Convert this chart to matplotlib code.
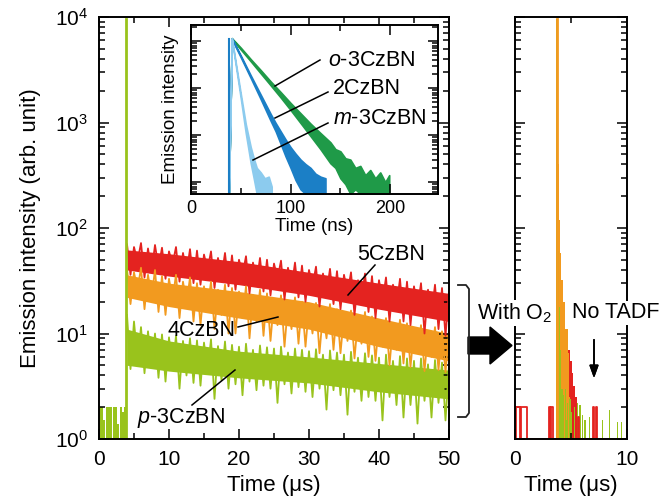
import matplotlib
matplotlib.use('Agg')
import matplotlib.pyplot as plt
import numpy as np
from matplotlib.lines import Line2D
from matplotlib.patches import Polygon
from matplotlib.ticker import MultipleLocator, LogLocator, NullFormatter

plt.rcParams['font.family'] = ['Liberation Sans', 'DejaVu Sans']
plt.rcParams['mathtext.fontset'] = 'custom'
plt.rcParams['mathtext.rm'] = 'Liberation Sans'
plt.rcParams['mathtext.it'] = 'Liberation Sans:italic'

RED = '#e42320'
ORANGE = '#f29a1f'
LIME = '#99c31c'
DGREEN = '#1f9a48'
BLUE = '#1b7fc6'
LBLUE = '#8ccbee'

# ---- main panel: delayed emission, sampled every 0.5 us from 4 to 50 us ----
t_main = np.linspace(4.0, 50.0, 93)
red_sig = [70, 36, 66, 48, 72, 34, 64, 38, 69, 42,
           65, 33, 60, 45, 66, 31, 58, 37, 63, 30,
           61, 29, 56, 40, 60, 27, 52, 34, 58, 28,
           55, 26, 50, 36, 54, 24, 47, 30, 52, 25,
           50, 23, 46, 33, 49, 21, 42, 27, 47, 22,
           44, 20, 40, 28, 43, 18, 37, 24, 41, 19,
           39, 17, 36, 24, 38, 15, 32, 21, 37, 16,
           35, 14, 32, 20, 34, 13, 29, 18, 33, 13,
           31, 12, 28, 17, 30, 10, 26, 15, 29, 11,
           27, 9.5, 25]
orange_sig = [41, 19, 38, 26, 42, 17, 36, 22, 40, 16,
              35, 15, 33, 21, 36, 14, 31, 19, 34, 13,
              30, 12, 28, 17, 31, 11, 26, 15, 29, 10,
              27, 10, 25, 14, 28, 9, 23, 13, 26, 9.5,
              24, 8.5, 21, 12, 23, 7.5, 19, 11, 22, 8,
              20, 7.5, 18, 10, 19.5, 6.5, 16, 9, 19, 7,
              17, 6.5, 15, 8.5, 16.5, 5.8, 13.5, 8, 16, 6,
              14.5, 5.5, 13, 7.5, 14, 5, 12, 7, 13.5, 5.2,
              12.5, 4.8, 11, 6.5, 12, 4.4, 10, 6, 11.5, 4.5,
              10.5, 4.3, 10]
green_sig = [15, 4.6, 13, 5.5, 11.5, 4.2, 10.5, 4.8, 10, 3.8,
             9.8, 3.5, 9.2, 4.6, 9.5, 3.0, 8.5, 4, 9, 3.4,
             8.6, 3.2, 8.2, 4.3, 8.8, 2.4, 7.6, 3.6, 8.4, 3.0,
             7.8, 3.3, 7.5, 2.6, 8, 3.5, 7, 2.9, 7.7, 3.2,
             7.4, 3.0, 7.2, 2.2, 7.5, 3.3, 6.6, 2.7, 7.2, 3.1,
             7, 2.8, 6.8, 2.5, 7.1, 3.0, 6.3, 1.9, 6.9, 2.9,
             6.6, 2.6, 6.3, 1.7, 6.7, 2.8, 5.9, 2.3, 6.5, 2.5,
             6.2, 2.3, 5.9, 1.5, 6.3, 2.5, 5.5, 2.1, 6.1, 1.6,
             5.8, 2.1, 5.5, 1.4, 5.8, 2.3, 5.1, 1.6, 5.6, 2.2,
             5.3, 1.5, 5.0]
# dense middle of each noisy band
t_core = [4, 10, 20, 30, 40, 50]
red_core_hi = [62, 57, 48, 38, 30, 24]
red_core_lo = [40, 35, 29, 23, 17, 13]
orange_core_hi = [36, 30, 25, 20, 14, 10]
orange_core_lo = [22, 18, 14, 11, 7.5, 5.5]
green_core_hi = [11, 8.5, 6.8, 6.0, 5.2, 4.5]
green_core_lo = [5, 4.4, 3.8, 3.4, 2.8, 2.4]
pre_t = [0.0, 0.3, 0.5, 0.8, 1.0, 1.3, 1.5, 1.8, 2.0, 2.3, 2.5, 2.8, 3.0, 3.3, 3.5, 3.9]
pre_hi = [2, 2, 1.5, 1, 2, 2, 2, 1, 2, 2, 1.4, 1, 2, 1.8, 2, 2]
spike_t = 3.9
spike_peak = 9500

# ---- inset: prompt fluorescence (ns) ----
o3_t = [38, 41, 50, 60, 70, 80, 90, 100, 110, 120, 130, 140, 145, 150, 155, 160, 165, 170,
        175, 180, 185, 190, 195, 199]
o3_hi = [0.56, 1150, 720, 410, 240, 138, 82, 48, 29, 17.5, 11, 7, 5, 4.5, 3.2, 3, 2.0, 2.2,
         1.4, 1.8, 1.2, 1.6, 1.0, 1.4]
o3_lo = [0.56, 1100, 660, 370, 205, 114, 63, 34, 18, 9.5, 5, 2.5, 2.0, 1.2, 0.9, 0.56, 0.7, 0.56,
         0.56, 0.56, 0.56, 0.56, 0.56, 0.56]
cz2_t = [38, 41, 50, 60, 70, 80, 85, 90, 95, 100, 105, 110, 115, 120, 125, 130, 135]
cz2_hi = [0.56, 1150, 490, 185, 72, 28, 18, 12, 8, 5.5, 4, 3, 2.4, 2, 1.5, 1.3, 1.2]
cz2_lo = [0.56, 1100, 450, 163, 58, 20, 12, 6.5, 3.5, 2, 1.1, 0.7, 0.56, 0.56, 0.56, 0.56, 0.56]
m3_t = [38, 41, 45, 50, 55, 60, 63, 66, 70, 74, 78, 81]
m3_hi = [0.56, 1150, 340, 75, 17, 5.5, 3.2, 2.0, 1.6, 1.2, 1.3, 0.8]
m3_lo = [0.56, 1100, 300, 60, 11, 2.5, 1.2, 0.56, 0.56, 0.56, 0.56, 0.56]

# ---- right panel: with O2 (us) ----
o2_red_t = [3.70, 3.75, 3.80, 3.90, 4.00, 4.10, 4.20, 4.30, 4.45, 4.60, 4.75, 4.90, 5.05,
            5.20, 5.35, 5.50, 5.60]
o2_red_y = [1, 9000, 110, 40, 24, 20, 17, 14, 11, 9, 7, 5.5, 4.2, 3.2, 2.5, 1.8, 1]
o2_orange_t = [3.68, 3.72, 3.80, 3.90, 4.00, 4.15, 4.30, 4.50, 4.70, 4.85, 4.95]
o2_orange_y = [1, 9500, 400, 120, 58, 32, 20, 11, 6.5, 2.5, 1]
o2_green_t = [3.66, 3.70, 3.76, 3.85, 3.95, 4.05, 4.15, 4.25]
o2_green_y = [1, 9500, 300, 60, 18, 7, 3, 1]
o2_red_base_t = [0.0, 0.1, 0.45, 0.55, 1.05, 3.05, 3.15, 3.25, 3.35, 5.60, 5.70, 5.80,
                 6.95, 7.05, 7.20, 7.30, 10]
o2_red_base_y = [1, 2, 1, 2, 1, 2, 1, 2, 1, 1.6, 1, 1, 2, 1, 2, 1, 1]
o2_green_base_t = [4.25, 4.35, 4.45, 4.55, 4.65, 4.75, 4.85, 5.0, 5.1, 5.25, 5.35, 5.55, 5.65,
                   5.75, 5.85, 6.0, 6.1, 6.2, 6.3, 6.6, 6.7, 7.8, 7.9, 8.0, 8.4, 8.5, 8.6,
                   9.1, 9.2, 9.3, 9.45, 9.55, 9.65]
o2_green_base_y = [2.6, 1, 3, 1.5, 2.2, 1, 2.4, 1.8, 1, 2, 1, 2.2, 1, 2.1, 1, 1.7, 1, 1.5,
                   1, 1.6, 1, 1.5, 1, 1, 1.9, 1, 1, 1.45, 1, 1, 1.45, 1, 1]

W, H = 664, 504


def fx(x):
    return x / W


def fy(y):
    return 1 - y / H


def style(a, size):
    a.tick_params(which='both', direction='in', top=True, right=True, width=1.1,
                  labelsize=size)
    a.tick_params(which='major', length=7)
    a.tick_params(which='minor', length=4)
    for s in a.spines.values():
        s.set_linewidth(1.4)
    a.set_yscale('log')
    a.yaxis.set_major_locator(LogLocator(base=10, numticks=10))
    a.yaxis.set_minor_locator(LogLocator(base=10, subs=np.arange(2, 10), numticks=10))
    a.yaxis.set_minor_formatter(NullFormatter())


fig = plt.figure(figsize=(6.64, 5.04), dpi=100)

# main panel
ax = fig.add_axes([fx(99), fy(439), 350 / W, 422 / H])
style(ax, 15)
for sig, lo, hi, c in [(red_sig, red_core_lo, red_core_hi, RED),
                       (orange_sig, orange_core_lo, orange_core_hi, ORANGE),
                       (green_sig, green_core_lo, green_core_hi, LIME)]:
    ax.fill_between(t_core, lo, hi, color=c, lw=0)
    ax.plot(t_main, sig, color=c, lw=1.3)
ax.fill_between(pre_t, 1, pre_hi, step='post', color=LIME, lw=0)
ax.plot([spike_t, spike_t], [1, spike_peak], color=LIME, lw=2)
ax.set_xlim(0, 50)
ax.set_ylim(1, 1e4)
ax.set_xticks([0, 10, 20, 30, 40, 50])
ax.xaxis.set_minor_locator(MultipleLocator(5))
ax.tick_params(axis='both', which='major', pad=8)
ax.set_xlabel('Time (μs)', fontsize=16, labelpad=4)
ax.set_ylabel('Emission intensity (arb. unit)', fontsize=16, labelpad=10)

# inset
axi = fig.add_axes([fx(191), fy(194), 247 / W, 169 / H])
style(axi, 13)
axi.fill_between(o3_t, o3_lo, o3_hi, color=DGREEN, lw=1.2, ec=DGREEN)
axi.fill_between(cz2_t, cz2_lo, cz2_hi, color=BLUE, lw=1.2, ec=BLUE)
axi.fill_between(m3_t, m3_lo, m3_hi, color=LBLUE, lw=1.2, ec=LBLUE)
axi.plot([38, 38], [0.56, 1100], color=BLUE, lw=1.5)
axi.set_xlim(0, 248)
axi.set_ylim(0.556, 2190)
axi.set_xticks([0, 100, 200])
axi.xaxis.set_minor_locator(MultipleLocator(50))
axi.yaxis.set_major_formatter(NullFormatter())
axi.tick_params(axis='x', which='major', pad=4)
axi.set_xlabel('Time (ns)', fontsize=13.5, labelpad=1)
axi.set_ylabel('Emission intensity', fontsize=13.5, labelpad=5)

# right panel with O2
axr = fig.add_axes([fx(515), fy(439), 112 / W, 422 / H])
style(axr, 15)
axr.fill_between(o2_red_t, 1, o2_red_y, step='post', color=RED, lw=0)
axr.step(o2_red_base_t, o2_red_base_y, where='post', color=RED, lw=1.3)
axr.fill_between(o2_orange_t, 1, o2_orange_y, step='post', color=ORANGE, lw=0)
axr.fill_between(o2_green_t, 1, o2_green_y, step='post', color=LIME, lw=0)
axr.fill_between(o2_green_base_t, 1, o2_green_base_y, step='post', color=LIME, lw=0)
axr.plot([3.74, 3.74], [1, 9500], color=ORANGE, lw=2)
axr.set_xlim(0, 10)
axr.set_ylim(1, 1e4)
axr.set_xticks([0, 10])
axr.xaxis.set_minor_locator(MultipleLocator(5))
axr.yaxis.set_major_formatter(NullFormatter())
axr.tick_params(axis='x', which='major', pad=8)
axr.set_xlabel('Time (μs)', fontsize=16, labelpad=4)

# labels and leader lines
labels = [
    ('5CzBN', 357, 255, (375, 265), (348, 295)),
    ('4CzBN', 168, 330, (238, 327), (278, 317)),
    (r'$\it{p}$-3CzBN', 137, 418, (192, 405), (235, 370)),
    (r'$\it{o}$-3CzBN', 328, 60, (320, 60), (275, 86)),
    ('2CzBN', 333, 89, (328, 92), (275, 118)),
    (r'$\it{m}$-3CzBN', 333, 119, (328, 123), (253, 160)),
]
for s, x, y, p0, p1 in labels:
    fig.add_artist(Line2D([fx(p0[0]), fx(p1[0])], [fy(p0[1]), fy(p1[1])],
                          color='black', lw=1.1))
    fig.text(fx(x), fy(y), s, fontsize=15.5, ha='left', va='center')

# bracket
bx = [458, 466, 469, 469, 466, 458]
by = [285, 285, 289, 413, 417, 417]
fig.add_artist(Line2D([fx(v) for v in bx], [fy(v) for v in by], color='#222222', lw=1.3))

# big arrow
arrow_pts = [(468, 337), (490, 337), (490, 327), (512, 345.5), (490, 364), (490, 354), (468, 354)]
fig.add_artist(Polygon([(fx(a), fy(b)) for a, b in arrow_pts], closed=True, color='black'))

fig.text(fx(477), fy(313), 'With O$_2$', fontsize=15.5, ha='left', va='center',
         bbox=dict(facecolor='white', edgecolor='none', pad=1))
fig.text(fx(572), fy(313), 'No TADF', fontsize=15.5, ha='left', va='center',
         bbox=dict(facecolor='white', edgecolor='none', pad=1))
fig.add_artist(plt.annotate('', xy=(fx(594), fy(381)), xytext=(fx(594), fy(337)),
                            xycoords='figure fraction', textcoords='figure fraction',
                            arrowprops=dict(arrowstyle='-|>,head_length=0.5,head_width=0.18',
                                            color='black', lw=1.2, mutation_scale=15)))

fig.savefig('out.png', dpi=100)
